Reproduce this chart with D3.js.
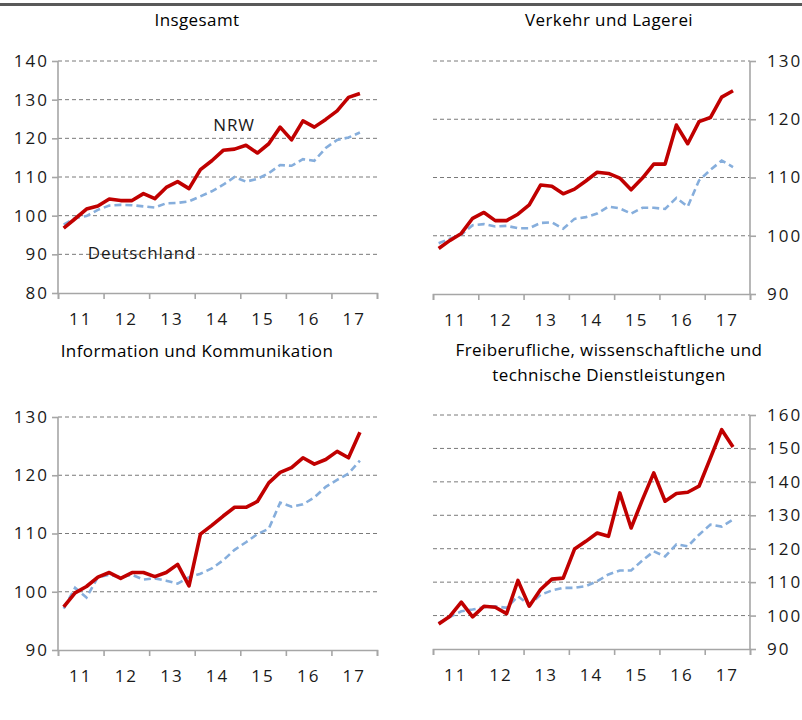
<!DOCTYPE html>
<html>
<head>
<meta charset="utf-8">
<script src="https://cdn.jsdelivr.net/npm/d3@7"></script>
<style>
  body { margin: 0; background: #fff; }
  svg { display: block; font-family: "Open Sans", sans-serif; }
</style>
</head>
<body>
<script>
// quarters 2011 Q1 .. 2017 Q4 (last quarter has no value yet)
var quarters = [
  "11q1", "11q2", "11q3", "11q4", "12q1", "12q2", "12q3", "12q4",
  "13q1", "13q2", "13q3", "13q4", "14q1", "14q2", "14q3", "14q4",
  "15q1", "15q2", "15q3", "15q4", "16q1", "16q2", "16q3", "16q4",
  "17q1", "17q2", "17q3", "17q4"
];
var yearLabels = ["11", "12", "13", "14", "15", "16", "17"];

var nrwInsgesamt = [96.8, 99.2, 101.7, 102.5, 104.3, 103.9, 103.9, 105.7, 104.4, 107.3, 108.8, 107.0, 111.9, 114.2,
  116.9, 117.2, 118.2, 116.2, 118.6, 122.9, 119.6, 124.5, 122.9, 124.9, 127.1, 130.6, 131.6];
var deInsgesamt = [97.7, 99.4, 99.9, 101.5, 102.6, 102.8, 102.7, 102.4, 102.1, 103.2, 103.3, 103.7, 105.0, 106.3,
  108.0, 110.0, 108.8, 109.5, 111.0, 113.1, 112.9, 114.6, 114.2, 117.5, 119.6, 120.2, 121.5];

var nrwVerkehr = [97.8, 99.2, 100.4, 103.0, 104.0, 102.6, 102.6, 103.7, 105.3, 108.7, 108.5, 107.2, 108.0, 109.4,
  110.9, 110.7, 109.9, 107.9, 109.9, 112.3, 112.3, 119.0, 115.8, 119.6, 120.3, 123.8, 124.9];
var deVerkehr = [98.7, 99.5, 100.2, 101.8, 102.0, 101.6, 101.7, 101.3, 101.3, 102.2, 102.3, 101.2, 102.9, 103.2,
  103.8, 105.0, 104.7, 103.8, 104.8, 104.8, 104.6, 106.5, 105.0, 109.5, 111.3, 112.9, 111.8];

var nrwInfo = [97.4, 99.8, 100.9, 102.5, 103.3, 102.3, 103.3, 103.3, 102.6, 103.3, 104.7, 101.0, 109.9, 111.4,
  113.0, 114.5, 114.5, 115.5, 118.7, 120.5, 121.3, 123.0, 121.9, 122.7, 124.1, 123.0, 127.4];
var deInfo = [97.1, 100.7, 99.0, 102.5, 102.9, 102.5, 102.9, 102.1, 102.3, 101.9, 101.4, 102.5, 103.1, 104.0,
  105.4, 107.2, 108.5, 109.9, 110.8, 115.3, 114.6, 115.0, 116.2, 118.0, 119.2, 120.3, 122.5];

var nrwFrei = [97.5, 99.8, 104.0, 99.6, 102.8, 102.5, 100.6, 110.5, 102.8, 107.8, 110.9, 111.2, 119.9, 122.2,
  124.7, 123.7, 136.7, 126.2, 134.7, 142.7, 134.2, 136.5, 136.9, 138.7, 147.1, 155.6, 150.4];
var deFrei = [97.8, 99.6, 101.3, 101.8, 102.5, 102.8, 102.3, 105.8, 103.2, 106.2, 107.5, 108.3, 108.3, 108.8,
  110.3, 112.3, 113.5, 113.5, 116.5, 119.2, 117.7, 121.3, 120.7, 124.2, 127.2, 126.6, 128.7];

var ticksInsgesamt = [80, 90, 100, 110, 120, 130, 140];
var ticksVerkehr = [90, 100, 110, 120, 130];
var ticksInfo = [90, 100, 110, 120, 130];
var ticksFrei = [90, 100, 110, 120, 130, 140, 150, 160];

var svg = d3.select("body").append("svg").attr("width", 802).attr("height", 720);

// dark rule along the top
svg.append("line")
  .attr("x1", 0).attr("x2", 802)
  .attr("y1", 4.5).attr("y2", 4.5)
  .attr("stroke", "#595959")
  .attr("stroke-width", 3);

drawPanel({
  title: ["Insgesamt"], titleX: 197, titleY: 26,
  left: 58, right: 377, top: 61, bottom: 293,
  ticks: ticksInsgesamt, side: "left",
  nrw: nrwInsgesamt, de: deInsgesamt, labels: true
});
drawPanel({
  title: ["Verkehr und Lagerei"], titleX: 609, titleY: 26,
  left: 433, right: 750, top: 61, bottom: 294,
  ticks: ticksVerkehr, side: "right",
  nrw: nrwVerkehr, de: deVerkehr
});
drawPanel({
  title: ["Information und Kommunikation"], titleX: 197, titleY: 357,
  left: 58, right: 377, top: 417, bottom: 650,
  ticks: ticksInfo, side: "left",
  nrw: nrwInfo, de: deInfo
});
drawPanel({
  title: ["Freiberufliche, wissenschaftliche und", "technische Dienstleistungen"], titleX: 609, titleY: 356,
  left: 433, right: 750, top: 415, bottom: 649,
  ticks: ticksFrei, side: "right",
  nrw: nrwFrei, de: deFrei
});

function drawPanel(p) {
  var g = svg.append("g");

  var x = d3.scaleBand().domain(quarters).range([p.left, p.right]).padding(0);
  var xYear = d3.scaleBand().domain(yearLabels).range([p.left, p.right]).padding(0);
  var xEdge = d3.scaleLinear().domain([0, yearLabels.length]).range([p.left, p.right]);
  var y = d3.scaleLinear()
    .domain([d3.min(p.ticks), d3.max(p.ticks)])
    .range([p.bottom, p.top]);

  // title
  g.append("text")
    .attr("x", p.titleX)
    .attr("y", p.titleY)
    .attr("text-anchor", "middle")
    .style("font-size", "17px")
    .style("letter-spacing", "0.4px")
    .style("fill", "#000")
    .selectAll("tspan")
    .data(p.title)
    .enter()
    .append("tspan")
    .attr("x", p.titleX)
    .attr("dy", function (d, i) { return i === 0 ? 0 : 25; })
    .text(function (d) { return d; });

  // dashed grid
  g.append("g")
    .selectAll("line")
    .data(p.ticks.slice(1))
    .enter()
    .append("line")
    .attr("x1", p.left)
    .attr("x2", p.right)
    .attr("y1", function (d) { return y(d); })
    .attr("y2", function (d) { return y(d); })
    .attr("stroke", "#7a7a7a")
    .attr("stroke-width", 1)
    .attr("stroke-dasharray", "4,3");

  // y axis
  var yAxis = p.side === "left"
    ? d3.axisLeft(y).tickValues(p.ticks).tickSize(6).tickPadding(3)
    : d3.axisRight(y).tickValues(p.ticks).tickSize(6).tickPadding(11);
  g.append("g")
    .attr("class", "y-axis")
    .attr("transform", "translate(" + (p.side === "left" ? p.left : p.right) + ",0)")
    .call(yAxis);

  // x axis: ticks at year boundaries, labels centred in each year
  g.append("g")
    .attr("class", "x-edge")
    .attr("transform", "translate(0," + p.bottom + ")")
    .call(d3.axisBottom(xEdge).tickValues(d3.range(yearLabels.length + 1)).tickSize(6).tickFormat(""));
  g.append("g")
    .attr("class", "x-axis")
    .attr("transform", "translate(0," + p.bottom + ")")
    .call(d3.axisBottom(xYear).tickSize(0).tickPadding(20));

  g.selectAll(".y-axis path, .y-axis line, .x-edge path, .x-edge line")
    .attr("stroke", "#a6a6a6")
    .attr("stroke-width", 1.6);
  g.selectAll(".y-axis path").attr("d", "M0," + p.top + "V" + p.bottom);
  g.select(".x-axis path").remove();
  g.selectAll(".y-axis text, .x-axis text")
    .attr("fill", "#1a1a1a")
    .style("font-size", "17px")
    .style("letter-spacing", "2px")
    .style("font-family", "Open Sans, sans-serif");

  var line = d3.line()
    .x(function (d, i) { return x(quarters[i]) + x.bandwidth() / 2; })
    .y(function (d) { return y(d); });

  g.append("path")
    .datum(p.de)
    .attr("d", line)
    .attr("fill", "none")
    .attr("stroke", "#86aedc")
    .attr("stroke-width", 2.6)
    .attr("stroke-dasharray", "7,4");

  g.append("path")
    .datum(p.nrw)
    .attr("d", line)
    .attr("fill", "none")
    .attr("stroke", "#c00000")
    .attr("stroke-width", 3.6)
    .attr("stroke-linejoin", "round");

  if (p.labels) {
    g.append("text")
      .attr("x", 234).attr("y", 131)
      .attr("text-anchor", "middle")
      .style("font-size", "17px")
      .style("letter-spacing", "0.8px")
      .style("fill", "#1a1a1a")
      .text("NRW");
    g.append("text")
      .attr("x", 142).attr("y", 259)
      .attr("text-anchor", "middle")
      .style("font-size", "17px")
      .style("letter-spacing", "0.8px")
      .style("fill", "#1a1a1a")
      .text("Deutschland");
  }
}
</script>
</body>
</html>
